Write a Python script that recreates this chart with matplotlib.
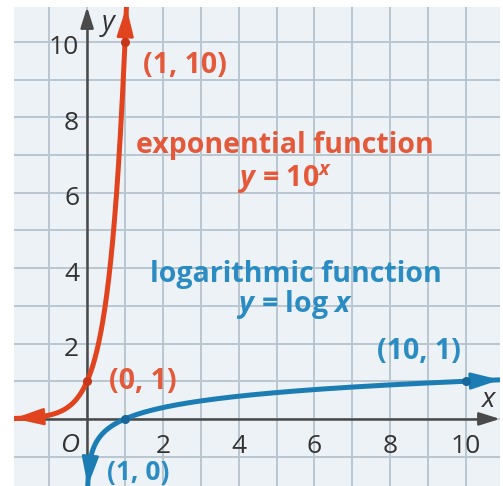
import numpy as np
import matplotlib
matplotlib.use("Agg")
import matplotlib.pyplot as plt

# ---- data -------------------------------------------------------------
x_ticks = [2, 4, 6, 8, 10]
y_ticks = [2, 4, 6, 8, 10]
exp_points = [(0, 1), (1, 10)]
log_points = [(1, 0), (10, 1)]
exp_labels = ["(0, 1)", "(1, 10)"]
log_labels = ["(1, 0)", "(10, 1)"]
xlim = (-1.93, 10.90)
ylim = (-1.78, 10.93)

RED = "#e2431f"
RED_TXT = "#e4593a"
BLUE = "#1c7db4"
BLUE_TXT = "#2a8cc2"
AXIS = "#4a4a4a"
GRID = "#b9c5cf"
PANEL = "#edf2f7"

LBL = 20.5   # bold annotation size
TCK = 19     # tick label size

plt.rcParams["font.family"] = ["Open Sans", "DejaVu Sans"]
plt.rcParams["mathtext.fontset"] = "custom"
plt.rcParams["mathtext.rm"] = "Open Sans:bold"
plt.rcParams["mathtext.it"] = "Open Sans:bold:italic"
plt.rcParams["mathtext.bf"] = "Open Sans:bold"

fig = plt.figure(figsize=(5.03, 4.86), dpi=100)
ax = fig.add_axes([14 / 503, 0.0, (500 - 14) / 503, (486 - 7) / 486])
ax.set_facecolor(PANEL)
ax.set_xlim(*xlim)
ax.set_ylim(*ylim)
for s in ax.spines.values():
    s.set_visible(False)
ax.set_xticks([])
ax.set_yticks([])

# grid
for gx in range(-1, 11):
    ax.axvline(gx, color=GRID, lw=1.4, zorder=0)
for gy in range(-1, 11):
    ax.axhline(gy, color=GRID, lw=1.4, zorder=0)

# axes with arrowheads
ax.plot([xlim[0], xlim[1] - 0.3], [0, 0], color=AXIS, lw=1.8, zorder=2, solid_capstyle="butt")
ax.plot([0, 0], [ylim[0], ylim[1] - 0.3], color=AXIS, lw=1.8, zorder=2, solid_capstyle="butt")
ax.annotate("", xy=(xlim[1], 0), xytext=(xlim[1] - 0.4, 0),
            arrowprops=dict(arrowstyle="-|>,head_length=0.7,head_width=0.22",
                            color=AXIS, lw=1.8, shrinkA=0, shrinkB=0, mutation_scale=18),
            zorder=2)
ax.annotate("", xy=(0, ylim[1]), xytext=(0, ylim[1] - 0.4),
            arrowprops=dict(arrowstyle="-|>,head_length=0.7,head_width=0.22",
                            color=AXIS, lw=1.8, shrinkA=0, shrinkB=0, mutation_scale=18),
            zorder=2)

# tick labels
for v in x_ticks:
    ax.text(v, -0.90, str(v), ha="center", va="baseline", fontsize=TCK, color="#333333")
for v in y_ticks:
    ax.text(-0.21, v - 0.33, str(v), ha="right", va="baseline", fontsize=TCK, color="#333333")
ax.text(-0.45, -0.875, "O", ha="center", va="baseline", fontsize=TCK,
        color="#333333", style="italic")
ax.text(0.56, 10.32, "y", ha="center", va="baseline", fontsize=20,
        color="#333333", style="italic")
ax.text(10.58, 0.32, "x", ha="center", va="baseline", fontsize=20,
        color="#333333", style="italic")

# curves
xe = np.linspace(xlim[0], np.log10(ylim[1]), 400)
ye = 10 ** xe
xl = np.geomspace(10 ** ylim[0], xlim[1], 600)
yl = np.log10(xl)
ax.plot(xe, ye, color=RED, lw=3.6, zorder=4, solid_capstyle="butt")
ax.plot(xl, yl, color=BLUE, lw=3.6, zorder=4, solid_capstyle="butt")

fig.canvas.draw()
to_px = ax.transData


def end_arrow(xs, ys, at_end, color, back_px=24):
    pts = to_px.transform(np.column_stack([xs, ys]))
    if not at_end:
        pts = pts[::-1]
    tip = pts[-1]
    d = np.hypot(*(pts - tip).T)
    idx = np.where(d >= back_px)[0][-1]
    tail = pts[idx]
    inv = to_px.inverted()
    ax.annotate("", xy=inv.transform(tip), xytext=inv.transform(tail),
                arrowprops=dict(arrowstyle="-|>,head_length=0.9,head_width=0.26",
                                color=color, lw=2.0, shrinkA=0, shrinkB=0,
                                mutation_scale=20),
                zorder=5)


end_arrow(xe, ye, False, RED)
end_arrow(xe, ye, True, RED)
end_arrow(xl, yl, False, BLUE)
end_arrow(xl, yl, True, BLUE)

# marked points
for (px, py) in exp_points:
    ax.plot(px, py, "o", color="#c8361a", ms=5.5, zorder=6)
for (px, py) in log_points:
    ax.plot(px, py, "o", color="#17679a", ms=5.5, zorder=6)

# point labels
ax.text(1.46, 1.0, exp_labels[0], ha="center", va="center", fontsize=LBL,
        fontweight="bold", color=RED_TXT, zorder=7)
ax.text(2.59, 9.39, exp_labels[1], ha="center", va="center", fontsize=LBL,
        fontweight="bold", color=RED_TXT, zorder=7)
ax.text(1.34, -1.42, log_labels[0], ha="center", va="center", fontsize=19,
        fontweight="bold", color=BLUE_TXT, zorder=7)
ax.text(8.76, 1.78, log_labels[1], ha="center", va="center", fontsize=LBL,
        fontweight="bold", color=BLUE_TXT, zorder=7)

# function names
ax.text(5.22, 7.06, "exponential function", ha="center", va="baseline",
        fontsize=LBL, fontweight="bold", color=RED_TXT, zorder=7)
ax.text(5.22, 6.15, r"$y$ = 10$^{x}$", ha="center", va="baseline",
        fontsize=LBL, fontweight="bold", color=RED_TXT, zorder=7)
ax.text(5.50, 3.63, "logarithmic function", ha="center", va="baseline",
        fontsize=LBL, fontweight="bold", color=BLUE_TXT, zorder=7)
ax.text(5.50, 2.84, r"$y$ = log $x$", ha="center", va="baseline",
        fontsize=LBL, fontweight="bold", color=BLUE_TXT, zorder=7)

fig.savefig("out.png", dpi=100, facecolor="white")
